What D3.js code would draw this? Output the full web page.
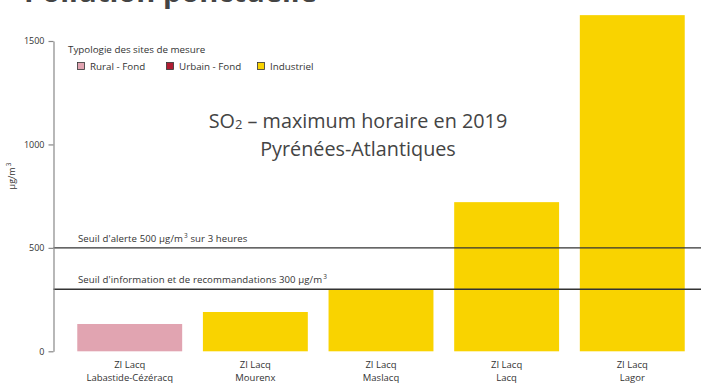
<!DOCTYPE html>
<html>
<head>
<meta charset="utf-8">
<script src="https://cdn.jsdelivr.net/npm/d3@7"></script>
<style>
  html, body { margin: 0; padding: 0; background: #fff; }
  svg { display: block; font-family: "Open Sans", "Noto Sans", sans-serif; }
</style>
</head>
<body>
<svg id="chart" width="701" height="385"></svg>
<script>
// Stations (two-line labels) and their hourly SO2 maxima in 2019, µg/m³
const stationLine1 = ["ZI Lacq", "ZI Lacq", "ZI Lacq", "ZI Lacq", "ZI Lacq"];
const stationLine2 = ["Labastide-Cézéracq", "Mourenx", "Maslacq", "Lacq", "Lagor"];
const stationType = ["Rural - Fond", "Industriel", "Industriel", "Industriel", "Industriel"];
const so2Max = [132, 190, 297, 721, 1625];

// Site typology legend
const typeNames = ["Rural - Fond", "Urbain - Fond", "Industriel"];
const typeColors = ["#e1a4b1", "#b01c32", "#f9d300"];

// Regulatory thresholds
const thresholdValues = [500, 300];
const thresholdLabels = [
  ["Seuil d'alerte 500 µg/m", "3", " sur 3 heures"],
  ["Seuil d'information et de recommandations 300 µg/m", "3", ""]
];

const yTicks = [0, 500, 1000, 1500];

const svg = d3.select("#chart");
const W = 701, H = 385;
const axisX = 53.5;

const y = d3.scaleLinear().domain([0, 1500]).range([351.3, 41]);
const x = d3.scaleBand()
  .domain(stationLine2)
  .range([66.9, 695.1])
  .paddingInner(0.165)
  .paddingOuter(0.0825);
const color = d3.scaleOrdinal().domain(typeNames).range(typeColors);

// Page heading (partly above the visible area)
svg.append("text")
  .attr("x", 24).attr("y", 2)
  .attr("font-size", 29).attr("font-weight", 700)
  .attr("fill", "#444")
  .text("Pollution ponctuelle");

// Bars
svg.append("g").selectAll("rect")
  .data(so2Max)
  .join("rect")
  .attr("x", (d, i) => x(stationLine2[i]))
  .attr("width", x.bandwidth())
  .attr("y", d => y(d))
  .attr("height", d => y(0) - y(d))
  .attr("fill", (d, i) => color(stationType[i]));

// Threshold lines with labels
thresholdValues.forEach((v, i) => {
  svg.append("line")
    .attr("x1", axisX).attr("x2", W)
    .attr("y1", y(v)).attr("y2", y(v))
    .attr("stroke", "#333").attr("stroke-width", 1.3);
  const t = svg.append("text")
    .attr("x", 78).attr("y", y(v) - 6)
    .attr("font-size", 9.6).attr("fill", "#333")
    .attr("letter-spacing", 0.1);
  const parts = thresholdLabels[i];
  t.append("tspan").text(parts[0]);
  t.append("tspan").attr("dx", 1).attr("dy", -4).attr("font-size", 6.5).text(parts[1]);
  t.append("tspan").attr("dy", 4).text(parts[2]);
});

// Y axis
const yAxis = d3.axisLeft(y).tickValues(yTicks).tickFormat(d3.format("d"))
  .tickSize(5).tickPadding(4).tickSizeOuter(0);
const gy = svg.append("g").attr("transform", `translate(${axisX},0)`).call(yAxis);
gy.select(".domain").attr("stroke", "#888").attr("stroke-width", 1.2);
gy.selectAll(".tick line").attr("stroke", "#888").attr("stroke-width", 1.2);
gy.selectAll(".tick text").attr("font-size", 9).attr("fill", "#333")
  .attr("font-family", "Open Sans, sans-serif");

// Y axis unit
const yl = svg.append("text")
  .attr("transform", `translate(15,176) rotate(-90)`)
  .attr("text-anchor", "middle")
  .attr("font-size", 9).attr("fill", "#333");
yl.append("tspan").text("µg/m");
yl.append("tspan").attr("dx", 1).attr("dy", -4).attr("font-size", 6.5).text("3");

// Category labels
const gx = svg.append("g");
stationLine2.forEach((s, i) => {
  const cx = x(s) + x.bandwidth() / 2;
  gx.append("text").attr("x", cx).attr("y", 368)
    .attr("text-anchor", "middle").attr("font-size", 9.5).attr("fill", "#333")
    .text(stationLine1[i]);
  gx.append("text").attr("x", cx).attr("y", 381)
    .attr("text-anchor", "middle").attr("font-size", 9.5).attr("fill", "#333")
    .text(s);
});

// Legend
svg.append("text").attr("x", 68).attr("y", 53)
  .attr("font-size", 9.8).attr("fill", "#333")
  .text("Typologie des sites de mesure");
const legendX = [77, 166, 257];
const lg = svg.append("g").selectAll("g").data(typeNames).join("g")
  .attr("transform", (d, i) => `translate(${legendX[i]},62)`);
lg.append("rect").attr("x", 0.5).attr("y", 0.5).attr("width", 7).attr("height", 7)
  .attr("fill", d => color(d)).attr("stroke", "#333").attr("stroke-width", 0.8);
lg.append("text").attr("x", 13).attr("y", 7.8)
  .attr("font-size", 9.8).attr("fill", "#333").text(d => d);

// Chart heading
const title = svg.append("text").attr("x", 358).attr("y", 128)
  .attr("text-anchor", "middle").attr("font-size", 19.8).attr("fill", "#444");
title.append("tspan").text("SO");
title.append("tspan").attr("font-size", 13).attr("dy", 1).text("2");
title.append("tspan").attr("dy", -1).text(" – maximum horaire en 2019");
svg.append("text").attr("x", 358).attr("y", 156)
  .attr("text-anchor", "middle").attr("font-size", 19.8).attr("fill", "#444")
  .text("Pyrénées-Atlantiques");
</script>
</body>
</html>
